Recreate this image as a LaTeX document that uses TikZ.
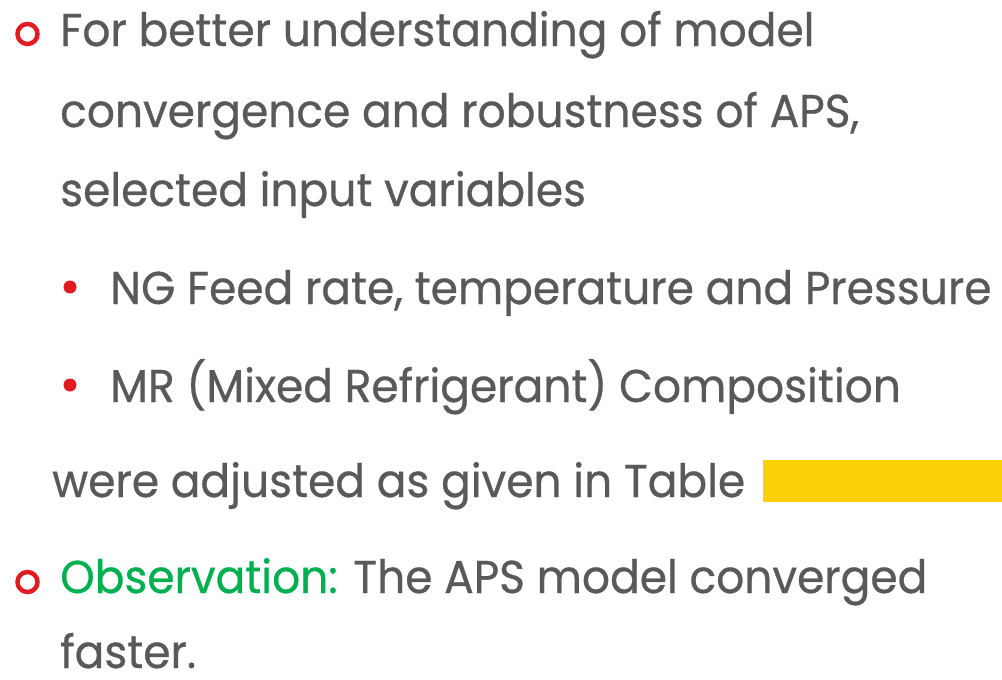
\documentclass[tikz,border=0pt]{standalone}
\usepackage{fontspec}
\setmainfont[FakeStretch=0.955,FakeBold=0.6]{Poppins}
\definecolor{txt}{HTML}{595959}
\definecolor{bred}{HTML}{E01B22}
\definecolor{bgreen}{HTML}{00B050}
\definecolor{byellow}{HTML}{FCCF07}
\begin{document}
\begin{tikzpicture}[x=1pt,y=-1pt,
  line/.style={anchor=base west,inner sep=0pt,text=txt,font=\fontsize{46}{50}\selectfont},
  ring/.style={circle,draw=bred,line width=4.5pt,minimum size=20pt,inner sep=0pt},
  dot/.style={circle,fill=bred,minimum size=13pt,inner sep=0pt}]
\useasboundingbox (0,0) rectangle (1002,680);
\node[ring] (r1) at (27.5,34) {};
\node[line] (l1) at (60,46) {For better understanding of model};
\node[line] (l2) at (60,127) {convergence and robustness of APS,};
\node[line] (l3) at (60,206) {selected input variables};
\node[dot] (d1) at (70,287) {};
\node[line] (l4) at (110,304) {NG Feed rate, temperature and Pressure};
\node[dot] (d2) at (70,385) {};
\node[line] (l5) at (110,402) {MR (Mixed Refrigerant) Composition};
\node[line] (l6) at (52,497) {were adjusted as given in Table};
\fill[byellow] (763,460) rectangle (1002,502);
\node[ring] (r2) at (27.5,582) {};
\node[line] (l7) at (60,593) {\textcolor{bgreen}{Observation:} The APS model converged};
\node[line] (l8) at (60,668) {faster.};
\end{tikzpicture}
\end{document}
